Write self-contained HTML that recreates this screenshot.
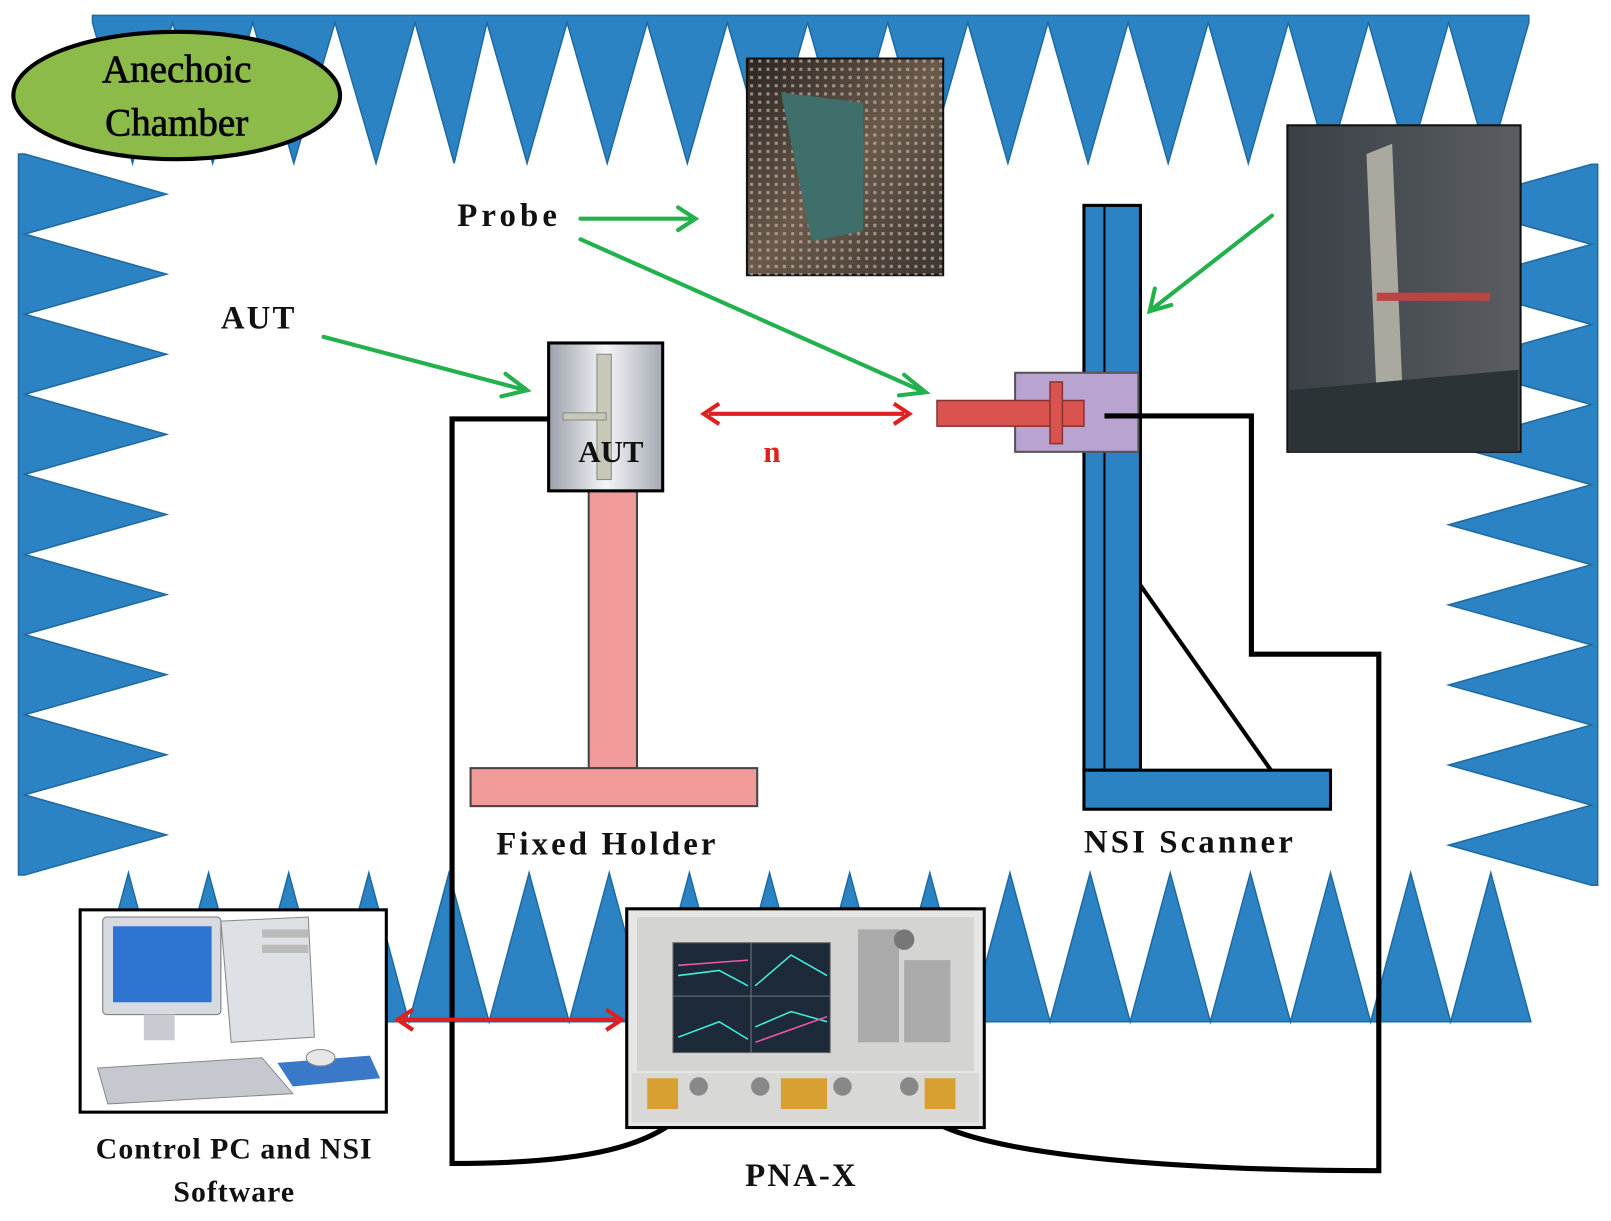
<!DOCTYPE html>
<html><head><meta charset="utf-8"><style>html,body{margin:0;padding:0;background:#fff}svg{display:block}</style></head>
<body>
<svg width="1611" height="1221" viewBox="0 0 1568 1189" preserveAspectRatio="none" xmlns="http://www.w3.org/2000/svg" font-family="Liberation Serif, serif" font-weight="bold">
<defs>
<linearGradient id="g1" x1="0" x2="1"><stop offset="0" stop-color="#9aa0aa"/><stop offset="0.5" stop-color="#f4f5f7"/><stop offset="1" stop-color="#a5aab3"/></linearGradient>
<linearGradient id="ph1" x1="0" x2="1" y1="0" y2="1"><stop offset="0" stop-color="#2a2522"/><stop offset="0.5" stop-color="#6b5a4c"/><stop offset="1" stop-color="#3a3530"/></linearGradient>
<linearGradient id="ph2" x1="0" x2="1"><stop offset="0" stop-color="#3a4046"/><stop offset="1" stop-color="#5a5e62"/></linearGradient>
<pattern id="dots" width="8" height="8" patternUnits="userSpaceOnUse"><rect x="2" y="2" width="3" height="3" fill="#c8b8a8" opacity="0.7"/></pattern>
</defs>
<g fill="#2b83c4" stroke="#1e6aa3" stroke-width="1.5">
<path d="M90,15 L1488,15 L1488,22 L1449,159 L1410,22 L1371,159 L1332,22 L1293,159 L1254,22 L1215,159 L1176,22 L1137,159 L1098,22 L1059,159 L1020,22 L981,159 L942,22 L903,159 L864,22 L825,159 L786,22 L747,159 L708,22 L669,159 L630,22 L591,159 L552,22 L513,159 L474,22 L442,159 L404,22 L366,159 L326,22 L286,159 L246,22 L207,159 L168,22 L129,159 L90,22 Z"/>
<path d="M18,150 L18,852 L24,852 L162,813 L24,774 L162,735 L24,696 L162,657 L24,618 L162,579 L24,540 L162,501 L24,462 L162,423 L24,384 L162,345 L24,306 L162,267 L24,228 L162,189 L24,150 Z"/>
<path d="M1555,160 L1555,862 L1549,862 L1410,823 L1549,784 L1410,745 L1549,706 L1410,667 L1549,628 L1410,589 L1549,550 L1410,511 L1549,472 L1410,433 L1549,394 L1410,355 L1549,316 L1410,277 L1549,238 L1410,199 L1549,160 Z"/>
<path d="M90,995 L1490,995 L1451,850 L1412,995 L1373,850 L1334,995 L1295,850 L1256,995 L1217,850 L1178,995 L1139,850 L1100,995 L1061,850 L1022,995 L983,850 L944,995 L905,850 L866,995 L827,850 L788,995 L749,850 L710,995 L671,850 L632,995 L593,850 L554,995 L515,850 L476,995 L437,850 L398,995 L359,850 L320,995 L281,850 L242,995 L203,850 L164,995 L125,850 L90,980 Z"/>
</g>
<ellipse cx="172" cy="93" rx="159" ry="62" fill="#8cbb4a" stroke="#000" stroke-width="4"/>
<text x="172" y="80" font-size="38" text-anchor="middle" font-weight="normal" stroke="#111" stroke-width="0.8">Anechoic</text>
<text x="172" y="132" font-size="38" text-anchor="middle" font-weight="normal" stroke="#111" stroke-width="0.8">Chamber</text>
<rect x="727" y="57" width="191" height="211" fill="url(#ph1)" stroke="#111" stroke-width="2"/>
<rect x="727" y="57" width="191" height="211" fill="url(#dots)"/>
<path d="M760,90 L840,100 L840,225 L790,235 Z" fill="#3f6f6a"/>
<rect x="1253" y="122" width="227" height="318" fill="url(#ph2)" stroke="#111" stroke-width="2"/>
<path d="M1330,150 L1355,140 L1365,380 L1340,390Z" fill="#a9a9a0"/>
<rect x="1340" y="285" width="110" height="8" fill="#b44"/>
<path d="M1255,380 L1478,360 L1478,440 L1255,440Z" fill="#2c3337"/>
<g font-size="32" fill="#111" letter-spacing="2">
<text x="445" y="220" letter-spacing="4">Probe</text>
<text x="215" y="320">AUT</text>
<text x="483" y="832" letter-spacing="3">Fixed Holder</text>
<text x="1055" y="830" letter-spacing="3">NSI Scanner</text>
<text x="228" y="1128" font-size="29" text-anchor="middle" letter-spacing="1">Control PC and NSI</text>
<text x="228" y="1170" font-size="29" text-anchor="middle" letter-spacing="1">Software</text>
<text x="780" y="1155" text-anchor="middle">PNA-X</text>
</g>
<text x="743" y="450" font-size="30" fill="#e02020">n</text>
<g stroke="#22b14c" stroke-width="4" fill="none" stroke-linecap="round">
<path d="M565,213 L676,213 M660,202 L677,213 L660,224"/>
<path d="M565,233 L900,382 M880,365 L901,382 L875,385"/>
<path d="M315,328 L512,380 M492,364 L513,380 L488,386"/>
<path d="M1238,210 L1120,302 M1124,281 L1119,303 L1140,297"/>
</g>
<g stroke="#000" stroke-width="5" fill="none">
<path d="M534,408 L440,408 L440,1133 C560,1133 650,1120 680,1065"/>
<path d="M1075,405 L1218,405 L1218,637 L1342,637 L1342,1140 C1150,1140 900,1125 888,1070"/>
</g>
<rect x="573" y="478" width="47" height="270" fill="#f09a9a" stroke="#444" stroke-width="2"/>
<rect x="458" y="748" width="279" height="37" fill="#f09a9a" stroke="#444" stroke-width="2"/>
<rect x="534" y="334" width="111" height="144" fill="url(#g1)" stroke="#000" stroke-width="3"/>
<rect x="581" y="345" width="14" height="122" fill="#c8c8b8" stroke="#888"/>
<rect x="548" y="402" width="42" height="7" fill="#c8c8b8" stroke="#888"/>
<text x="563" y="450" font-size="30" fill="#111">AUT</text>
<g stroke="#e02020" stroke-width="4" fill="none">
<path d="M690,403 L880,403 M700,393 L685,403 L700,413 M870,393 L885,403 L870,413"/>
<path d="M392,993 L600,993 M402,983 L387,993 L402,1003 M590,983 L605,993 L590,1003"/>
</g>
<rect x="1055" y="200" width="55" height="550" fill="#2b83c4" stroke="#000" stroke-width="3"/>
<line x1="1075" y1="200" x2="1075" y2="750" stroke="#000" stroke-width="2"/>
<rect x="1055" y="750" width="240" height="38" fill="#2b83c4" stroke="#000" stroke-width="3"/>
<line x1="1110" y1="570" x2="1237" y2="750" stroke="#000" stroke-width="4"/>
<rect x="988" y="363" width="120" height="77" fill="#b9a3d0" stroke="#555" stroke-width="2"/>
<rect x="912" y="390" width="143" height="25" fill="#d9534f" stroke="#833" stroke-width="1.5"/>
<rect x="1022" y="372" width="12" height="60" fill="#d9534f" stroke="#833" stroke-width="1.5"/>
<line x1="1075" y1="405" x2="1110" y2="405" stroke="#000" stroke-width="5"/>
<rect x="78" y="886" width="298" height="197" fill="#fff" stroke="#000" stroke-width="3"/>
<rect x="100" y="893" width="115" height="95" rx="4" fill="#d7dbe0" stroke="#777"/>
<rect x="110" y="902" width="96" height="74" fill="#2f74d0"/>
<rect x="140" y="988" width="30" height="25" fill="#c8ccd2"/>
<path d="M215,897 L300,893 L306,1010 L225,1015Z" fill="#dde0e4" stroke="#888"/>
<rect x="255" y="905" width="45" height="8" fill="#bbb"/><rect x="255" y="920" width="45" height="8" fill="#bbb"/>
<path d="M95,1040 L255,1030 L285,1065 L105,1075Z" fill="#c5c9cf" stroke="#888"/>
<path d="M270,1035 L360,1028 L370,1050 L285,1058Z" fill="#3a78c8"/>
<ellipse cx="312" cy="1030" rx="14" ry="8" fill="#e6e6e6" stroke="#888"/>
<rect x="610" y="885" width="348" height="213" fill="#e6e6e4" stroke="#000" stroke-width="3"/>
<rect x="620" y="893" width="328" height="150" fill="#d4d4d2"/>
<rect x="655" y="918" width="153" height="107" fill="#1c2a3a" stroke="#666"/>
<line x1="731" y1="918" x2="731" y2="1025" stroke="#777"/><line x1="655" y1="970" x2="808" y2="970" stroke="#777"/>
<path d="M660,950 L700,945 L728,960 M735,960 L770,930 L805,950 M660,1010 L700,995 L728,1012 M735,1000 L770,985 L805,995" stroke="#4ed" stroke-width="1.5" fill="none"/>
<path d="M660,940 L728,935 M735,1015 L805,990" stroke="#e5a" stroke-width="1.5" fill="none"/>
<g fill="#aaa"><rect x="835" y="905" width="40" height="110"/><rect x="880" y="935" width="45" height="80"/></g>
<circle cx="880" cy="915" r="10" fill="#777"/>
<rect x="615" y="1045" width="338" height="48" fill="#d8d8d6"/>
<g fill="#888"><circle cx="680" cy="1058" r="9"/><circle cx="740" cy="1058" r="9"/><circle cx="820" cy="1058" r="9"/><circle cx="885" cy="1058" r="9"/></g>
<g fill="#d8a030"><rect x="630" y="1050" width="30" height="30"/><rect x="760" y="1050" width="45" height="30"/><rect x="900" y="1050" width="30" height="30"/></g>
</svg>
</body></html>
